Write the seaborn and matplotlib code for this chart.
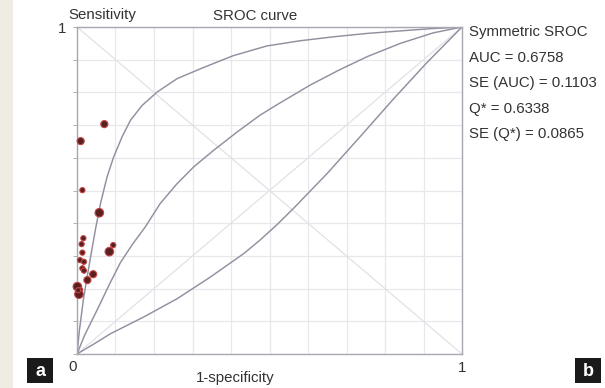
import matplotlib
matplotlib.use("Agg")
import matplotlib.pyplot as plt
import seaborn as sns
import pandas as pd
from matplotlib.patches import Rectangle

# ---- data ----
upper_fpr = [0, 0.006, 0.017, 0.035, 0.049, 0.061, 0.078, 0.095, 0.117, 0.139, 0.169, 0.208,
             0.260, 0.320, 0.405, 0.493, 0.580, 0.666, 0.750, 0.839, 0.920, 1.0]
upper_sens = [0, 0.070, 0.170, 0.295, 0.388, 0.460, 0.541, 0.602, 0.664, 0.715, 0.760, 0.801,
              0.842, 0.872, 0.912, 0.942, 0.958, 0.970, 0.980, 0.988, 0.995, 1.0]

middle_fpr = [0, 0.020, 0.052, 0.085, 0.113, 0.145, 0.177, 0.216, 0.260, 0.303, 0.355, 0.416,
              0.475, 0.519, 0.605, 0.680, 0.753, 0.840, 0.925, 1.0]
middle_sens = [0, 0.058, 0.134, 0.215, 0.280, 0.337, 0.388, 0.460, 0.521, 0.572, 0.623, 0.679,
               0.730, 0.762, 0.822, 0.868, 0.909, 0.950, 0.982, 1.0]

lower_fpr = [0, 0.043, 0.087, 0.173, 0.260, 0.346, 0.433, 0.475, 0.519, 0.562, 0.649, 0.735,
             0.822, 0.908, 1.0]
lower_sens = [0, 0.030, 0.062, 0.113, 0.169, 0.235, 0.307, 0.348, 0.395, 0.445, 0.551, 0.664,
              0.780, 0.890, 1.0]

study_fpr = [0.071, 0.0096, 0.014, 0.058, 0.0165, 0.012, 0.014, 0.008, 0.018, 0.014,
             0.018, 0.042, 0.027, 0.084, 0.094, 0.001, 0.008, 0.005, 0.003]
study_sens = [0.703, 0.651, 0.501, 0.432, 0.354, 0.336, 0.310, 0.287, 0.282, 0.262,
              0.255, 0.244, 0.226, 0.313, 0.333, 0.206, 0.196, 0.183, 0.195]
study_weight = [2, 2, 1, 3, 1, 1, 1, 1, 1, 1, 1, 2, 2, 3, 1, 3, 1, 3, 1]

stats_labels = ["Symmetric SROC", "AUC = 0.6758", "SE (AUC) = 0.1103",
                "Q* = 0.6338", "SE (Q*) = 0.0865"]

sns.set_theme(style="white")
plt.rcParams["font.family"] = ["Liberation Sans", "DejaVu Sans"]

fig = plt.figure(figsize=(6.05, 3.88), dpi=100)
fig.patch.set_facecolor("white")
fig.patches.append(Rectangle((0, 0), 13 / 605, 1, transform=fig.transFigure,
                             facecolor="#eeece3", edgecolor="none", zorder=0))

ax = fig.add_axes([77 / 605, 1 - 354 / 388, 385 / 605, 327 / 388])
ax.set_xlim(0, 1)
ax.set_ylim(0, 1)

# grid
ticks = [i / 10 for i in range(11)]
ax.set_xticks(ticks)
ax.set_yticks(ticks)
ax.grid(True, color="#e8e8ec", linewidth=0.9)
ax.set_xticklabels([])
ax.set_yticklabels([])
ax.tick_params(axis="x", length=0)
ax.tick_params(axis="y", length=3, color="#b0b0b0", width=0.7, direction="out", left=True)

# reference diagonals
ax.plot([0, 1], [0, 1], color="#e2e2e6", lw=0.9, zorder=1)
ax.plot([0, 1], [1, 0], color="#e2e2e6", lw=0.9, zorder=1)

curve_color = "#9090a0"
for fx, sy in [(upper_fpr, upper_sens), (middle_fpr, middle_sens), (lower_fpr, lower_sens)]:
    df = pd.DataFrame({"fpr": fx, "sens": sy})
    sns.lineplot(data=df, x="fpr", y="sens", sort=False, estimator=None,
                 color=curve_color, lw=1.05, ax=ax, zorder=2)

pts = pd.DataFrame({"fpr": study_fpr, "sens": study_sens, "w": study_weight})
sns.scatterplot(data=pts, x="fpr", y="sens", size="w", sizes=(14, 38),
                color="#5a2020", edgecolor="#c04444", linewidth=0.8,
                legend=False, ax=ax, zorder=3, clip_on=False)

ax.set_xlabel("")
ax.set_ylabel("")
for s in ax.spines.values():
    s.set_color("#a8a8b0")
    s.set_linewidth(1.0)

fs = 10.8
tc = "#333333"
fig.text(102 / 605, 1 - 15 / 388, "Sensitivity", fontsize=fs, color=tc, va="center", ha="center")
fig.text(255 / 605, 1 - 16 / 388, "SROC curve", fontsize=fs, color=tc, va="center", ha="center")
fig.text(62 / 605, 1 - 29 / 388, "1", fontsize=fs, color=tc, va="center", ha="center")
fig.text(73 / 605, 1 - 367 / 388, "0", fontsize=fs, color=tc, va="center", ha="center")
fig.text(462 / 605, 1 - 368 / 388, "1", fontsize=fs, color=tc, va="center", ha="center")
fig.text(235 / 605, 1 - 378 / 388, "1-specificity", fontsize=fs, color=tc, va="center", ha="center")

for i, lab in enumerate(stats_labels):
    fig.text(469 / 605, 1 - (32 + 25.5 * i) / 388, lab, fontsize=fs, color=tc, va="center", ha="left")

# panel letters
for x0, letter in [(27, "a"), (575, "b")]:
    fig.patches.append(Rectangle((x0 / 605, 1 - 383 / 388), 26 / 605, 25 / 388,
                                 transform=fig.transFigure, facecolor="#1a1a1a",
                                 edgecolor="none", zorder=5))
    fig.text((x0 + 13) / 605, 1 - 371 / 388, letter, fontsize=13, color="white",
             ha="center", va="center", fontweight="bold", zorder=6)

fig.savefig("out.png", dpi=100)
